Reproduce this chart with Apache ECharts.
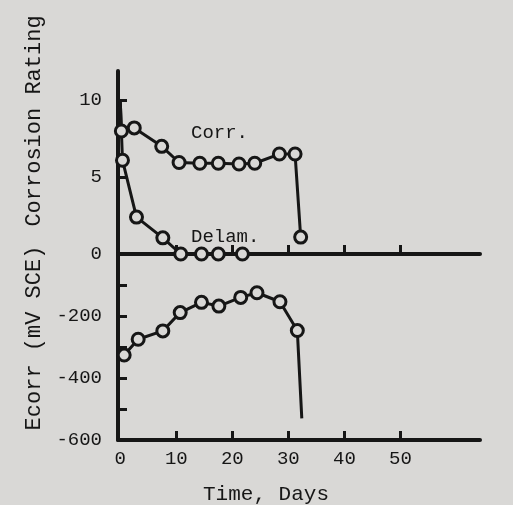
<!DOCTYPE html>
<html>
<head>
<meta charset="utf-8">
<script src="https://cdn.jsdelivr.net/npm/echarts@6/dist/echarts.min.js"></script>
<style>
  html, body { margin: 0; padding: 0; background: #d9d8d6; }
  #main { width: 513px; height: 505px; }
</style>
</head>
<body>
<div id="main"></div>
<script>
// corrosion rating panel (top)
const corrDays = [0, 0.2, 2.5, 7.4, 10.5, 14.2, 17.5, 21.2, 24.0, 28.4, 31.2, 32.2];
const corrRating = [10, 8.0, 8.2, 7.0, 5.95, 5.9, 5.9, 5.85, 5.9, 6.5, 6.5, 1.1];
const delamDays = [0, 0.4, 2.9, 7.6, 10.8, 14.5, 17.5, 21.8];
const delamRating = [10, 6.1, 2.4, 1.05, 0, 0, 0, 0];
// Ecorr panel (bottom), last value is the end of the drop line
const ecorrDays = [0.7, 3.2, 7.6, 10.7, 14.5, 17.6, 21.5, 24.4, 28.5, 31.6, 32.4];
const ecorrMv = [-326, -275, -248, -189, -156, -168, -140, -125, -154, -247, -530];

const dayTicks = [0, 10, 20, 30, 40, 50];
const ratingTicks = [0, 5, 10];
const mvLabels = [-600, -400, -200];
const mvTicks = [-500, -400, -300, -200, -100];

const ink = '#161616';
const bg = '#d9d8d6';
const font = '"Liberation Mono", "DejaVu Sans Mono", monospace';

// first point of a line that has no circle drawn on it
function pts(xs, ys, bareFirst, bareLast) {
    return xs.map(function (x, i) {
        const p = { value: [x, ys[i]] };
        if ((bareFirst && i === 0) || (bareLast && i === xs.length - 1)) p.symbol = 'none';
        return p;
    });
}

const chart = echarts.init(document.getElementById('main'));

const lineStyle = { color: ink, width: 3 };
const itemStyle = { color: bg, borderColor: ink, borderWidth: 3 };

const xBase = {
    type: 'value', min: -0.4, max: 64.2,
    splitLine: { show: false },
    axisLine: { onZero: false, lineStyle: { color: ink, width: 4 } },
    axisTick: { inside: true, length: 9, lineStyle: { color: ink, width: 3 }, customValues: [10, 20, 30, 40, 50] }
};

chart.setOption({
    backgroundColor: bg,
    animation: false,
    textStyle: { fontFamily: font, color: ink },
    grid: [
        { left: 118, top: 71, width: 362, height: 183 },
        { left: 118, top: 254, width: 362, height: 186 }
    ],
    xAxis: [
        Object.assign({ gridIndex: 0, axisLabel: { show: false } }, xBase),
        Object.assign({ gridIndex: 1, axisLabel: { color: ink, fontSize: 19, fontFamily: font, margin: 9, customValues: dayTicks } }, xBase)
    ],
    yAxis: [
        {
            gridIndex: 0, type: 'value', min: 0, max: 11.9,
            splitLine: { show: false },
            axisLine: { onZero: false, lineStyle: { color: ink, width: 4 } },
            axisTick: { inside: true, length: 9, lineStyle: { color: ink, width: 3 }, customValues: [5, 10] },
            axisLabel: { color: ink, fontSize: 19, fontFamily: font, margin: 16, customValues: ratingTicks }
        },
        {
            gridIndex: 1, type: 'value', min: -600, max: 0,
            splitLine: { show: false },
            axisLine: { onZero: false, lineStyle: { color: ink, width: 4 } },
            axisTick: { inside: true, length: 9, lineStyle: { color: ink, width: 3 }, customValues: mvTicks },
            axisLabel: { color: ink, fontSize: 19, fontFamily: font, margin: 16, customValues: mvLabels }
        }
    ],
    graphic: [
        { type: 'text', x: 34, y: 121, rotation: Math.PI / 2,
          style: { text: 'Corrosion Rating', font: '22px ' + font, fill: ink, align: 'center', verticalAlign: 'middle' } },
        { type: 'text', x: 34, y: 338, rotation: Math.PI / 2,
          style: { text: 'Ecorr (mV SCE)', font: '22px ' + font, fill: ink, align: 'center', verticalAlign: 'middle' } },
        { type: 'text', x: 266, y: 494,
          style: { text: 'Time, Days', font: '21px ' + font, fill: ink, align: 'center', verticalAlign: 'middle' } },
        { type: 'text', x: 191, y: 133,
          style: { text: 'Corr.', font: '19px ' + font, fill: ink, align: 'left', verticalAlign: 'middle' } },
        { type: 'text', x: 191, y: 237,
          style: { text: 'Delam.', font: '19px ' + font, fill: ink, align: 'left', verticalAlign: 'middle' } }
    ],
    series: [
        { name: 'Corr.', type: 'line', xAxisIndex: 0, yAxisIndex: 0, clip: false,
          data: pts(corrDays, corrRating, true, false),
          symbol: 'circle', symbolSize: 12, lineStyle: lineStyle, itemStyle: itemStyle },
        { name: 'Delam.', type: 'line', xAxisIndex: 0, yAxisIndex: 0, clip: false,
          data: pts(delamDays, delamRating, true, false),
          symbol: 'circle', symbolSize: 12, lineStyle: lineStyle, itemStyle: itemStyle },
        { name: 'Ecorr', type: 'line', xAxisIndex: 1, yAxisIndex: 1, clip: false,
          data: pts(ecorrDays, ecorrMv, false, true),
          symbol: 'circle', symbolSize: 12, lineStyle: lineStyle, itemStyle: itemStyle }
    ]
});
</script>
</body>
</html>
